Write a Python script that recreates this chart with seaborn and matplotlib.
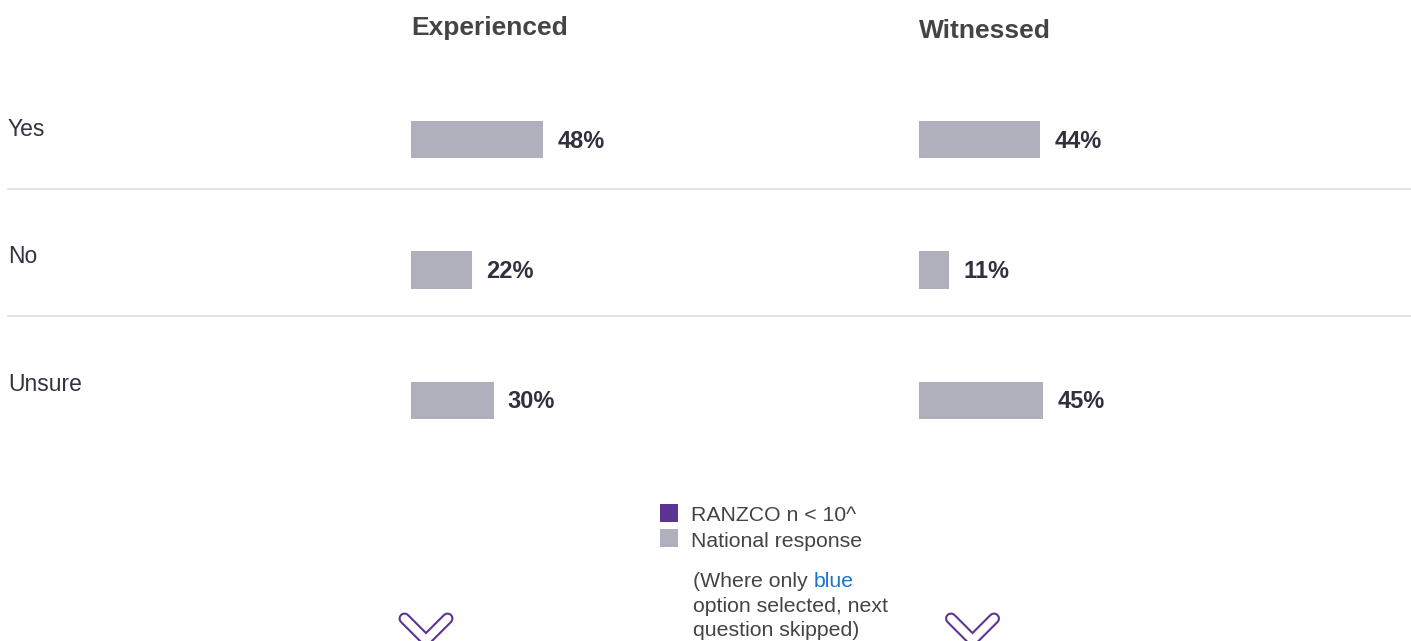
import matplotlib
matplotlib.use("Agg")
import matplotlib.pyplot as plt
from matplotlib.lines import Line2D
from matplotlib.patches import Rectangle
import seaborn as sns
import pandas as pd

# Survey answers and percentages per panel
answers = ["Yes", "No", "Unsure"]
panels = ["Experienced", "Witnessed"]
experienced = [48, 22, 30]
witnessed = [44, 11, 45]
legend_labels = ["RANZCO n < 10^", "National response"]
note_lines = ["(Where only", "option selected, next", "question skipped)"]
note_highlight = "blue"

df = pd.DataFrame({
    "panel": [panels[0]] * len(answers) + [panels[1]] * len(answers),
    "answer": answers * 2,
    "pct": experienced + witnessed,
})

sns.set_theme(style="white")
plt.rcParams["font.family"] = ["Liberation Sans", "DejaVu Sans"]

W, H = 1411, 641
fig = plt.figure(figsize=(W / 100, H / 100), dpi=100)
fig.patch.set_facecolor("white")

BAR_GRAY = "#b0afbc"
PURPLE = "#5b3494"
LABEL_DARK = "#30303e"
TEXT_GRAY = "#444444"
BLUE = "#1a73d1"

# Background layer in pixel coordinates for labels, rules and legend
bg = fig.add_axes([0, 0, 1, 1], zorder=0)
bg.set_xlim(0, W)
bg.set_ylim(H, 0)
bg.axis("off")

# Row separators
for y in (189, 316):
    bg.add_line(Line2D([8, W], [y, y], color="#dedede", linewidth=1.2))

# Row labels
for lab, base in zip(answers, (136, 263, 391)):
    bg.text(8, base, lab, fontsize=16.5, color="#333340", va="baseline", ha="left")

# Panels with horizontal bars
panel_left = {panels[0]: 411, panels[1]: 919}
title_base = {panels[0]: 35, panels[1]: 38}
px_per_pct = 2.76
ax_top, ax_h = 74.25, 391.5
for p in panels:
    left = panel_left[p]
    ax = fig.add_axes([left / W, 1 - (ax_top + ax_h) / H, 100 * px_per_pct / W, ax_h / H], zorder=1)
    ax.patch.set_alpha(0)
    sub = df[df["panel"] == p]
    sns.barplot(data=sub, x="pct", y="answer", order=answers, orient="h",
                color=BAR_GRAY, saturation=1, width=0.284, errorbar=None,
                linewidth=0, ax=ax)
    ax.set_xlim(0, 100)
    ax.set_ylim(2.5, -0.5)
    ax.axis("off")
    for i, v in enumerate(sub["pct"]):
        ax.annotate(f"{v}%", xy=(v, i), xytext=(14, -8), textcoords="offset pixels",
                    fontsize=17, fontweight="bold", color=LABEL_DARK,
                    va="baseline", ha="left", annotation_clip=False)
    bg.text(left, title_base[p], p, fontsize=19, fontweight="bold",
            color=TEXT_GRAY, va="baseline", ha="left")

# Legend
for (y0, col), lab, base in zip([(504, PURPLE), (529, BAR_GRAY)], legend_labels, (521, 547)):
    bg.add_patch(Rectangle((660, y0), 18, 18, facecolor=col, edgecolor="none"))
    bg.text(691, base, lab, fontsize=15.3, color=TEXT_GRAY, va="baseline", ha="left")

# Footnote with highlighted word
first = None
for line, base in zip(note_lines, (587, 612, 636)):
    t = bg.text(693, base, line, fontsize=15.3, color=TEXT_GRAY, va="baseline", ha="left")
    if first is None:
        first = t
bg.annotate(note_highlight, xy=(1, 0), xycoords=first, xytext=(6, 0),
            textcoords="offset pixels", fontsize=15.3, color=BLUE,
            va="bottom", ha="left")

# Scroll chevrons
for cx in (426, 972.5):
    xs = [cx - 21.5, cx, cx + 21.5]
    ys = [618.5, 640, 618.5]
    bg.add_line(Line2D(xs, ys, color=PURPLE, linewidth=8.6,
                       solid_capstyle="round", solid_joinstyle="round"))
    bg.add_line(Line2D(xs, ys, color="white", linewidth=5.6,
                       solid_capstyle="round", solid_joinstyle="round"))

fig.savefig("out.png", dpi=100, facecolor="white")
